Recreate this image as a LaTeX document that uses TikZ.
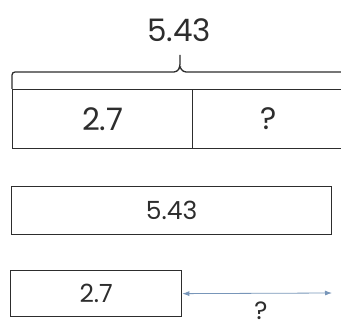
\documentclass[tikz,border=0pt]{standalone}
\usepackage{fontspec}
\setmainfont{Poppins}
\usepackage{tikz}
\usetikzlibrary{positioning,arrows.meta}
\definecolor{tapegray}{RGB}{45,45,45}
\definecolor{gapblue}{RGB}{120,150,185}

\begin{document}
\begin{tikzpicture}[
    x=1pt, y=-1pt,
    tape/.style={rectangle, draw=tapegray, line width=1.3pt, inner sep=0pt, anchor=north west, text=tapegray},
    bignum/.style={font=\fontsize{31}{31}\selectfont, text=tapegray},
    num/.style={font=\fontsize{25}{25}\selectfont},
    brace/.style={draw=tapegray, line width=1.3pt, rounded corners=3pt},
    arrow/.style={{Latex[length=7pt,width=5pt]}-{Latex[length=7pt,width=5pt]}, gapblue, line width=0.8pt}
]
\useasboundingbox (0,0) rectangle (341,329);

% Part-whole tape
\node[bignum] (total) at (179,30) {5.43};
\node[tape, bignum, minimum width=180pt, minimum height=59pt] (part1) at (12,89) {2.7};
\node[tape, bignum, minimum width=152pt, minimum height=59pt] (part2) at (192,89) {?};
\coordinate (tip) at (180,55);

\draw[brace] (part1.north west) -- (12,72) -- (177,72) -- (tip |- 0,67) -- (tip);
\draw[brace] (tip |- 0,67) -- (183,72) -- (346,72);

% Comparison bars
\node[tape, num, minimum width=320pt, minimum height=48pt] (whole) at (11,186) {5.43};
\node[tape, num, minimum width=171pt, minimum height=46pt] (known) at (10,270) {2.7};
\coordinate (gapend) at (332,293);
\node[num, text=tapegray, inner sep=1pt] (gap) at (261,311) {?};

\draw[arrow] (known.east) -- (gapend);

\end{tikzpicture}
\end{document}
